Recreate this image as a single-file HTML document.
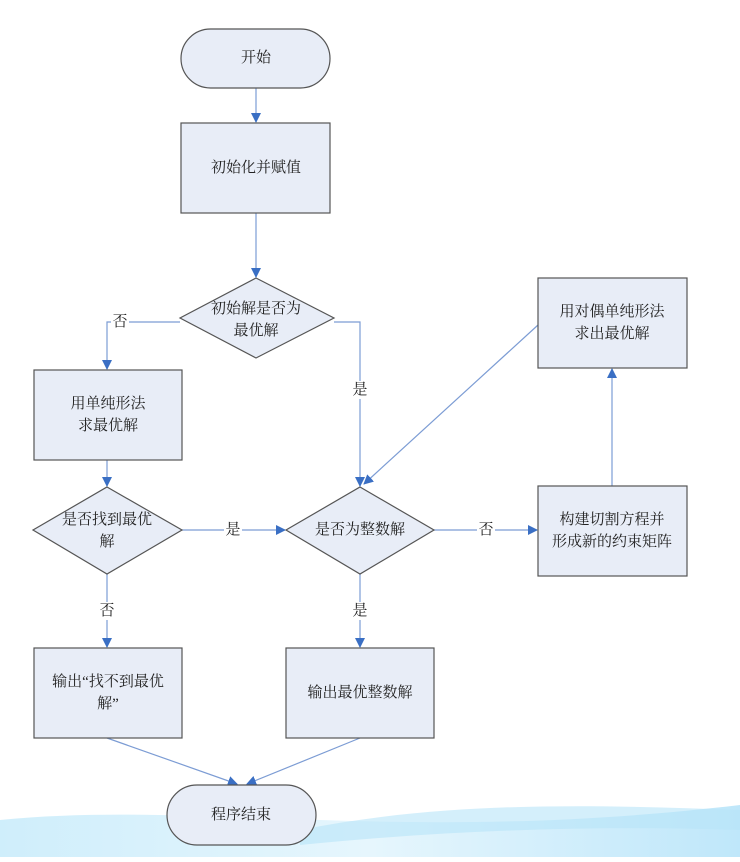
<!DOCTYPE html>
<html><head><meta charset="utf-8"><style>
body{margin:0;background:#fff;width:740px;height:857px;overflow:hidden}
svg text{font-family:"Liberation Serif","Noto Serif CJK SC","Noto Sans CJK SC",serif;font-size:15px;fill:#222;text-anchor:middle;dominant-baseline:central}
</style></head><body>
<svg width="740" height="857" viewBox="0 0 740 857">
<defs>
<marker id="a" markerWidth="10" markerHeight="10" refX="9" refY="5" orient="auto" markerUnits="userSpaceOnUse"><path d="M0,0L10,5L0,10z" fill="#3a6fc4"/></marker>
<linearGradient id="w" x1="0" y1="0" x2="1" y2="0"><stop offset="0" stop-color="#cfeefb"/><stop offset="0.5" stop-color="#e6f6fd"/><stop offset="1" stop-color="#bfe7fa"/></linearGradient>
</defs>
<path d="M0,820 C200,800 400,845 740,805 L740,857 L0,857z" fill="url(#w)"/>
<path d="M300,830 C450,800 600,805 740,810 L740,830 C600,825 450,830 300,845z" fill="#b8e4f8" opacity="0.6"/>
<g stroke="#7c9cd4" stroke-width="1.2" fill="none">
<line x1="256" y1="88" x2="256" y2="122" marker-end="url(#a)"/>
<line x1="256" y1="213" x2="256" y2="277" marker-end="url(#a)"/>
<polyline points="180,322 107,322 107,369" marker-end="url(#a)"/>
<polyline points="334,322 360,322 360,486" marker-end="url(#a)"/>
<line x1="538" y1="325" x2="364" y2="484" marker-end="url(#a)"/>
<line x1="107" y1="460" x2="107" y2="486" marker-end="url(#a)"/>
<line x1="182" y1="530" x2="285" y2="530" marker-end="url(#a)"/>
<line x1="434" y1="530" x2="537" y2="530" marker-end="url(#a)"/>
<line x1="612" y1="486" x2="612" y2="369" marker-end="url(#a)"/>
<line x1="107" y1="574" x2="107" y2="647" marker-end="url(#a)"/>
<line x1="360" y1="574" x2="360" y2="647" marker-end="url(#a)"/>
<line x1="107" y1="738" x2="237" y2="784" marker-end="url(#a)"/>
<line x1="360" y1="738" x2="247" y2="784" marker-end="url(#a)"/>
</g>
<g fill="#e8edf7" stroke="#555" stroke-width="1.2">
<rect x="181" y="29" width="149" height="59" rx="29.5"/>
<rect x="181" y="123" width="149" height="90"/>
<polygon points="256,278 334,318 256,358 180,318"/>
<rect x="34" y="370" width="148" height="90"/>
<polygon points="107,487 182,530 107,574 33,530"/>
<polygon points="360,487 434,530 360,574 286,530"/>
<rect x="34" y="648" width="148" height="90"/>
<rect x="286" y="648" width="148" height="90"/>
<rect x="167" y="785" width="149" height="60" rx="30"/>
<rect x="538" y="278" width="149" height="90"/>
<rect x="538" y="486" width="149" height="90"/>
</g>
<g fill="#fff">
<rect x="111" y="313" width="18" height="18"/><rect x="351" y="381" width="18" height="18"/>
<rect x="224" y="521" width="18" height="18"/><rect x="477" y="521" width="18" height="18"/>
<rect x="98" y="602" width="18" height="18"/><rect x="351" y="602" width="18" height="18"/>
</g>
<text x="256" y="58">开始</text>
<text x="256" y="168">初始化并赋值</text>
<text x="256" y="309">初始解是否为</text><text x="256" y="331">最优解</text>
<text x="108" y="404">用单纯形法</text><text x="108" y="426">求最优解</text>
<text x="107" y="520">是否找到最优</text><text x="107" y="542">解</text>
<text x="360" y="530">是否为整数解</text>
<text x="612" y="312">用对偶单纯形法</text><text x="612" y="334">求出最优解</text>
<text x="612" y="520">构建切割方程并</text><text x="612" y="542">形成新的约束矩阵</text>
<text x="108" y="682">输出“找不到最优</text><text x="108" y="704">解”</text>
<text x="360" y="693">输出最优整数解</text>
<text x="241" y="815">程序结束</text>
<text x="120" y="322">否</text><text x="360" y="390">是</text>
<text x="233" y="530">是</text><text x="486" y="530">否</text>
<text x="107" y="611">否</text><text x="360" y="611">是</text>
</svg>
</body></html>
